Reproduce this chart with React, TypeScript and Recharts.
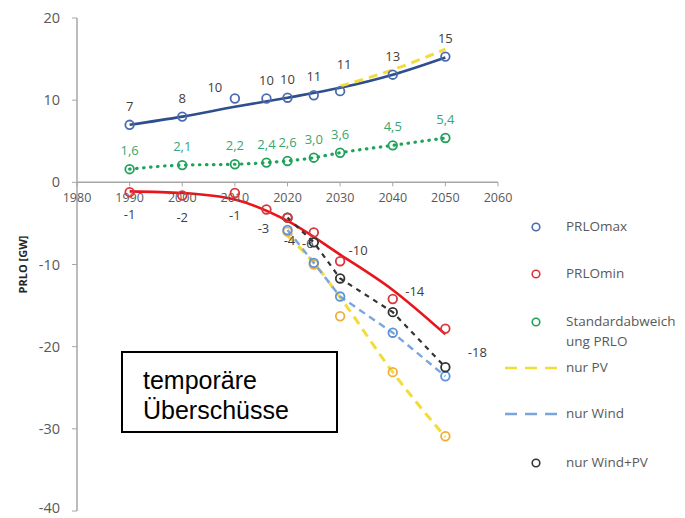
import { ComposedChart, Line, Scatter, XAxis, YAxis, ReferenceLine } from 'recharts';

// axis ticks
const xTicks = [1980, 1990, 2000, 2010, 2020, 2030, 2040, 2050, 2060];
const yTicks = [-40, -30, -20, -10, 0, 10, 20];

// yearly PRLO points
const pointYears = [1990, 2000, 2010, 2016, 2020, 2025, 2030, 2040, 2050];
const maxValues = [7.0, 8.0, 10.2, 10.2, 10.3, 10.6, 11.1, 13.1, 15.3];
const minValues = [-1.2, -1.6, -1.3, -3.3, -4.3, -6.1, -9.6, -14.2, -17.8];
const stdValues = [1.6, 2.1, 2.2, 2.4, 2.6, 3.0, 3.6, 4.5, 5.4];

// trend lines
const trendYears = [1990, 2000, 2010, 2020, 2030, 2040, 2050];
const maxTrend = [7.0, 8.0, 9.2, 10.3, 11.5, 13.1, 15.2];
const minTrend = [-1.1, -1.3, -2.1, -4.7, -8.8, -13.1, -18.5];

// scenarios
const scenYears = [2020, 2025, 2030, 2040, 2050];
const pvValues = [-6.0, -10.0, -16.3, -23.1, -30.9];
const windValues = [-5.8, -9.8, -13.9, -18.3, -23.6];
const windPvValues = [-4.3, -7.3, -11.7, -15.8, -22.5];
const pvTrend = [-6.5, -9.8, -14.0, -23.1, -31.0];

const pvUpperYears = [2030, 2040, 2050];
const pvUpper = [11.7, 13.7, 16.2];

const FONT = '"Open Sans", sans-serif';
const C = {
  max: '#4a6cae',
  maxLine: '#2f4e8e',
  min: '#d9363c',
  minLine: '#e8151b',
  std: '#1fa35b',
  pv: '#f0ad3c',
  pvLine: '#f2dc3a',
  wind: '#5c93d6',
  windLine: '#7aa6de',
  windPv: '#333333',
};

const rows = (years: number[], values: number[]) =>
  years.map((year, i) => ({ year, v: values[i] }));

// label offsets (from the point centre to the text baseline)
const maxOffsets: Record<number, [number, number]> = { 2010: [-20, -7], 2030: [4, -22] };
const minOffsets: Record<number, [number, number]> = {
  2016: [-3, 24],
  2020: [2, 27],
  2025: [-6, 16],
  2030: [18, -6],
  2040: [22, -3],
  2050: [32, 28],
};

const ringDot = (color: string) => (p: any) => {
  if (p.cx == null || p.cy == null) return <g />;
  return <circle cx={p.cx} cy={p.cy} r={4.3} fill="none" stroke={color} strokeWidth={1.8} />;
};

const labelledDot =
  (color: string, textColor: string, fmt: (v: number) => string, def: [number, number], offsets: Record<number, [number, number]> = {}) =>
  (p: any) => {
    const { cx, cy, payload } = p;
    const [dx, dy] = offsets[payload.year] ?? def;
    return (
      <g>
        <circle cx={cx} cy={cy} r={4.3} fill="none" stroke={color} strokeWidth={1.8} />
        <text x={cx + dx} y={cy + dy} textAnchor="middle" fontSize={13} fontFamily={FONT} fill={textColor}>
          {fmt(payload.v)}
        </text>
      </g>
    );
  };

const xTickShape = (p: any) => (
  <g>
    <line x1={p.cx} y1={p.cy} x2={p.cx} y2={p.cy + 4} stroke="#a6a6a6" strokeWidth={1} />
    <text x={p.cx} y={p.cy + 20} textAnchor="middle" fontSize={12.5} fontFamily={FONT} fill="#595959">
      {p.payload.year}
    </text>
  </g>
);

// y tick labels; the lowest one is lifted a little so it stays inside the frame
const yTick = (p: any) => (
  <text x={p.x} y={p.y + (p.payload.value === -40 ? 2 : 5)} textAnchor="end" fontSize={14.5} fontFamily={FONT} fill="#595959">
    {p.payload.value}
  </text>
);

const legendItems = [
  { name: 'PRLOmax', kind: 'dot', color: C.max },
  { name: 'PRLOmin', kind: 'dot', color: C.min },
  { name: 'Standardabweich\nung PRLO', kind: 'dot', color: C.std },
  { name: 'nur PV', kind: 'dash', color: C.pvLine },
  { name: 'nur Wind', kind: 'dash', color: C.windLine },
  { name: 'nur Wind+PV', kind: 'dot', color: C.windPv },
];
const legendTops = [216, 263, 311, 357, 403, 452];

export default function App() {
  return (
    <div style={{ position: 'absolute', left: 0, top: 0, width: 685, height: 518, background: '#fff' }}>
      <ComposedChart width={685} height={518} margin={{ top: 18, right: 187, bottom: 7, left: 0 }}>
        <XAxis type="number" dataKey="year" domain={[1980, 2060]} ticks={xTicks} hide />
        <YAxis
          type="number"
          domain={[-40, 20]}
          ticks={yTicks}
          interval={0}
          width={77}
          axisLine={{ stroke: '#a6a6a6', strokeWidth: 1.5 }}
          tickLine={{ stroke: '#a6a6a6' }}
          tickSize={5}
          tickMargin={12}
          tick={yTick}
          label={(props: any) => {
            const vb = props.viewBox;
            const x = vb.x + 22;
            const y = vb.y + vb.height / 2;
            return (
              <text x={x} y={y} transform={`rotate(-90, ${x}, ${y})`} textAnchor="middle" dominantBaseline="central"
                fontSize={11} fontWeight="bold" fontFamily={FONT} fill="#262626">
                PRLO [GW]
              </text>
            );
          }}
        />
        <ReferenceLine y={0} stroke="#a6a6a6" strokeWidth={1.5} />
        <Scatter data={rows(xTicks, xTicks.map(() => 0))} dataKey="v" shape={xTickShape} isAnimationActive={false} />

        <Line data={rows(trendYears, maxTrend)} dataKey="v" type="monotone" stroke={C.maxLine} strokeWidth={2.6} dot={false} isAnimationActive={false} />
        <Line data={rows(pvUpperYears, pvUpper)} dataKey="v" type="monotone" stroke={C.pvLine} strokeWidth={3} strokeDasharray="9 6" dot={false} isAnimationActive={false} />
        <Line data={rows(pointYears, stdValues)} dataKey="v" type="monotone" stroke={C.std} strokeWidth={3.2} strokeLinecap="round" strokeDasharray="0.5 6.5" dot={false} isAnimationActive={false} />
        <Line data={rows(trendYears, minTrend)} dataKey="v" type="monotone" stroke={C.minLine} strokeWidth={2.6} dot={false} isAnimationActive={false} />
        <Line data={rows(scenYears, pvTrend)} dataKey="v" type="monotone" stroke={C.pvLine} strokeWidth={3} strokeDasharray="9 6" dot={false} isAnimationActive={false} />
        <Line data={rows(scenYears, windValues)} dataKey="v" type="linear" stroke={C.windLine} strokeWidth={2.4} strokeDasharray="7 5" dot={false} isAnimationActive={false} />
        <Line data={rows(scenYears, windPvValues)} dataKey="v" type="linear" stroke={C.windPv} strokeWidth={2.2} strokeDasharray="5 5" dot={false} isAnimationActive={false} />

        <Scatter data={rows(scenYears, pvValues)} dataKey="v" shape={ringDot(C.pv)} isAnimationActive={false} />
        <Scatter data={rows(scenYears, windValues)} dataKey="v" shape={ringDot(C.wind)} isAnimationActive={false} />
        <Scatter data={rows(scenYears, windPvValues)} dataKey="v" shape={ringDot(C.windPv)} isAnimationActive={false} />
        <Scatter
          data={rows(pointYears, maxValues)}
          dataKey="v"
          shape={labelledDot(C.max, '#404040', (v) => String(Math.round(v)), [0, -14], maxOffsets)}
          isAnimationActive={false}
        />
        <Scatter
          data={rows(pointYears, stdValues)}
          dataKey="v"
          shape={labelledDot(C.std, '#3aa66f', (v) => v.toFixed(1).replace('.', ','), [0, -14])}
          isAnimationActive={false}
        />
        <Scatter
          data={rows(pointYears, minValues)}
          dataKey="v"
          shape={labelledDot(C.min, '#404040', (v) => String(Math.round(v)), [0, 27], minOffsets)}
          isAnimationActive={false}
        />
      </ComposedChart>

      {legendItems.map((item, i) => (
        <div key={item.name} style={{ position: 'absolute', left: 500, top: legendTops[i], width: 185, height: 40 }}>
          <svg width={62} height={22} style={{ position: 'absolute', left: 0, top: 0 }}>
            {item.kind === 'dot' ? (
              <circle cx={36} cy={11} r={3.8} fill="none" stroke={item.color} strokeWidth={1.6} />
            ) : (
              <line x1={5} y1={11} x2={60} y2={11} stroke={item.color} strokeWidth={2.6} strokeDasharray="12 8" />
            )}
          </svg>
          <div
            style={{
              position: 'absolute',
              left: 66,
              top: 0,
              fontFamily: FONT,
              fontSize: 13.5,
              lineHeight: '20px',
              color: '#595959',
              whiteSpace: 'pre',
            }}
          >
            {item.name}
          </div>
        </div>
      ))}

      <div
        style={{
          position: 'absolute',
          left: 121,
          top: 351,
          width: 217,
          height: 82,
          border: '2px solid #000',
          fontFamily: '"Liberation Sans", Arial, sans-serif',
          fontSize: 25,
          lineHeight: '30px',
          paddingLeft: 20,
          paddingTop: 12,
          boxSizing: 'border-box',
          color: '#000',
        }}
      >
        temporäre
        <br />
        Überschüsse
      </div>
    </div>
  );
}
